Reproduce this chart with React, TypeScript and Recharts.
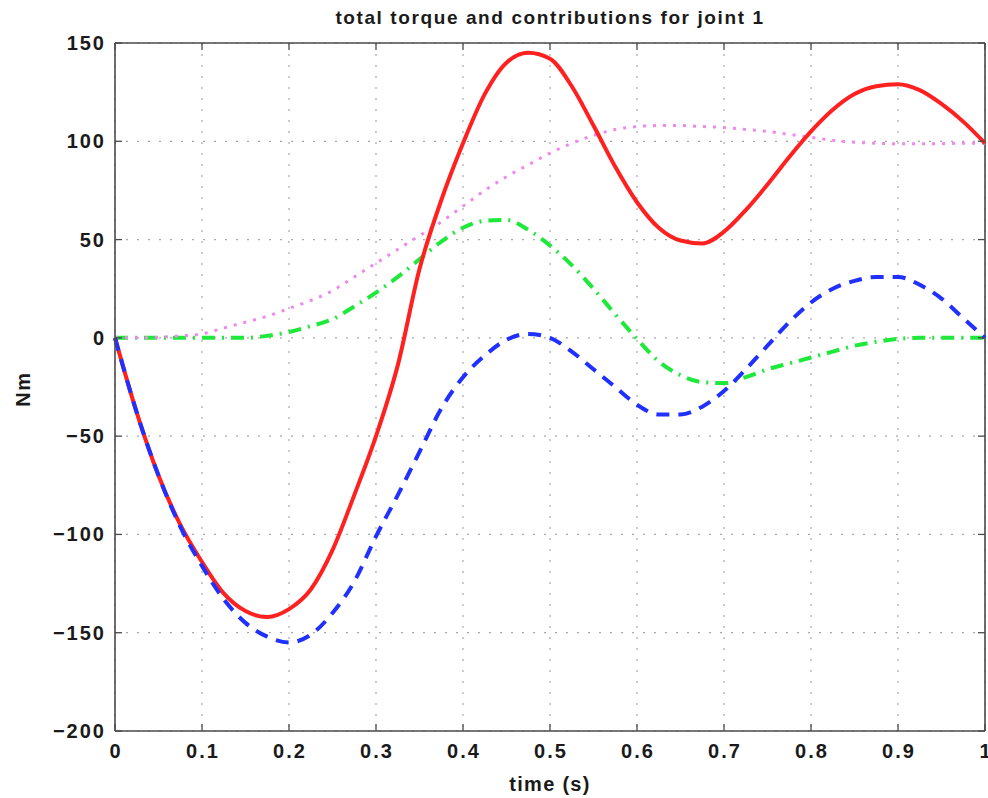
import React from 'react';
import { LineChart, Line, XAxis, YAxis, CartesianGrid, ReferenceLine } from 'recharts';

const time = [0, 0.025, 0.05, 0.075, 0.1, 0.125, 0.15, 0.175, 0.2, 0.225, 0.25, 0.275, 0.3, 0.325, 0.35, 0.375, 0.4, 0.425, 0.45, 0.475, 0.5, 0.525, 0.55, 0.575, 0.6, 0.625, 0.65, 0.675, 0.7, 0.725, 0.75, 0.775, 0.8, 0.825, 0.85, 0.875, 0.9, 0.925, 0.95, 0.975, 1.0];

const totalTorque = [0, -38, -70, -95, -114, -130, -139, -142, -138, -128, -108, -80, -50, -14, 35, 70, 99, 124, 140, 145, 142, 128, 108, 87, 69, 56, 49.5, 48, 54, 65, 78, 92, 105, 116, 124, 128, 129, 126, 119, 110, 99];

const inertial = [0, -38, -70, -96, -116, -133, -145, -152, -155, -151, -140, -124, -101, -80, -58, -36, -20, -9, -1, 2, 0, -7, -16, -25, -34, -39, -39, -35, -27, -16, -4, 8, 18, 25, 29, 31, 31, 27, 20, 10, 0];

const coriolis = [0, 0, 0, 0, 0, 0, 0, 1, 3, 6, 9.5, 16, 23, 31, 40, 49, 56, 59.5, 60, 55, 47, 37, 25, 12, -0.5, -12, -19, -22.5, -23, -20, -16, -13, -10, -7, -4, -2, -0.5, 0, 0, 0, 0];

const gravity = [0, 0, 0.3, 1, 2, 5, 8, 11, 15, 19, 24, 31, 38, 45, 52, 59, 67, 75, 82, 88, 94, 99, 103, 106, 107.5, 108, 108, 107.5, 107, 106, 105, 103.5, 102, 100.5, 99.5, 99, 98.7, 98.7, 98.8, 99, 99];

const xTicks = [0, 0.1, 0.2, 0.3, 0.4, 0.5, 0.6, 0.7, 0.8, 0.9, 1];
const yTicks = [-200, -150, -100, -50, 0, 50, 100, 150];

const data = time.map((t, i) => ({
  t,
  total: totalTorque[i],
  inertial: inertial[i],
  coriolis: coriolis[i],
  gravity: gravity[i],
}));

const FONT = '"Liberation Sans", Arial, Helvetica, sans-serif';
const AXIS = '#4a4a4a';
const TEXT = '#1a1a1a';

const fmtX = (v: number) => (v === 0 ? '0' : v === 1 ? '1' : String(Math.round(v * 10) / 10));
const fmtY = (v: number) => (v < 0 ? '\u2212' + String(-v) : String(v));

const XTickBottom = (props: any) => {
  const { x, y, payload } = props;
  return (
    <g>
      <line x1={x} y1={y} x2={x} y2={y - 7} stroke={AXIS} strokeWidth={1.3} />
      <line x1={x} y1={43} x2={x} y2={50} stroke={AXIS} strokeWidth={1.3} />
      <text x={x + 1} y={y + 27} textAnchor="middle" fontFamily={FONT} fontWeight="bold" fontSize={20} letterSpacing={2} fill={TEXT}>
        {fmtX(payload.value)}
      </text>
    </g>
  );
};

const YTickLeft = (props: any) => {
  const { x, y, payload } = props;
  return (
    <g>
      <line x1={x} y1={y} x2={x + 7} y2={y} stroke={AXIS} strokeWidth={1.3} />
      <line x1={985} y1={y} x2={978} y2={y} stroke={AXIS} strokeWidth={1.3} />
      <text x={x - 9} y={y + 7} textAnchor="end" fontFamily={FONT} fontWeight="bold" fontSize={20} letterSpacing={2} fill={TEXT}>
        {fmtY(payload.value)}
      </text>
    </g>
  );
};

export default function App() {
  return (
    <div style={{ position: 'absolute', left: 0, top: 0, width: 988, height: 798, background: '#ffffff', overflow: 'hidden' }}>
      <LineChart width={988} height={798} data={data} margin={{ top: 43, right: 3, bottom: 0, left: 0 }}>
        <CartesianGrid stroke="#a8a8a8" strokeDasharray="2 9" strokeWidth={1.2} />
        <ReferenceLine y={150} stroke={AXIS} strokeWidth={1.6} />
        <ReferenceLine x={1} stroke={AXIS} strokeWidth={1.6} />
        <XAxis
          dataKey="t"
          type="number"
          domain={[0, 1]}
          ticks={xTicks}
          height={67}
          tickSize={0}
          tickMargin={0}
          interval={0}
          stroke={AXIS}
          strokeWidth={1.6}
          tick={<XTickBottom />}
        />
        <YAxis
          type="number"
          domain={[-200, 150]}
          ticks={yTicks}
          width={115}
          tickSize={0}
          tickMargin={0}
          interval={0}
          stroke={AXIS}
          strokeWidth={1.6}
          tick={<YTickLeft />}
        />
        <Line dataKey="coriolis" type="monotone" stroke="#1ee83a" strokeWidth={4} strokeDasharray="13 7 2 7" dot={false} isAnimationActive={false} />
        <Line dataKey="gravity" type="monotone" stroke="#ee88ee" strokeWidth={3} strokeDasharray="3 7" dot={false} isAnimationActive={false} />
        <Line dataKey="total" type="monotone" stroke="#ff2020" strokeWidth={4} dot={false} isAnimationActive={false} />
        <Line dataKey="inertial" type="monotone" stroke="#2030ff" strokeWidth={4} strokeDasharray="13 9" dot={false} isAnimationActive={false} />
      </LineChart>
      <div style={{ position: 'absolute', left: 0, width: 988, top: 6, paddingLeft: 112, boxSizing: 'border-box', textAlign: 'center', fontFamily: FONT, fontWeight: 'bold', fontSize: 19, color: TEXT, letterSpacing: 1.6, lineHeight: '24px' }}>
        total torque and contributions for joint 1
      </div>
      <div style={{ position: 'absolute', left: 0, width: 988, top: 771, paddingLeft: 112, boxSizing: 'border-box', textAlign: 'center', fontFamily: FONT, fontWeight: 'bold', fontSize: 20, color: TEXT, letterSpacing: 1.3, lineHeight: '26px' }}>
        time (s)
      </div>
      <div style={{ position: 'absolute', left: 23, top: 389, width: 0, height: 0 }}>
        <div style={{ position: 'absolute', left: -40, top: -13, width: 80, textAlign: 'center', transform: 'rotate(-90deg)', fontFamily: FONT, fontWeight: 'bold', fontSize: 20, color: TEXT, letterSpacing: 1.5, lineHeight: '26px' }}>
          Nm
        </div>
      </div>
    </div>
  );
}
